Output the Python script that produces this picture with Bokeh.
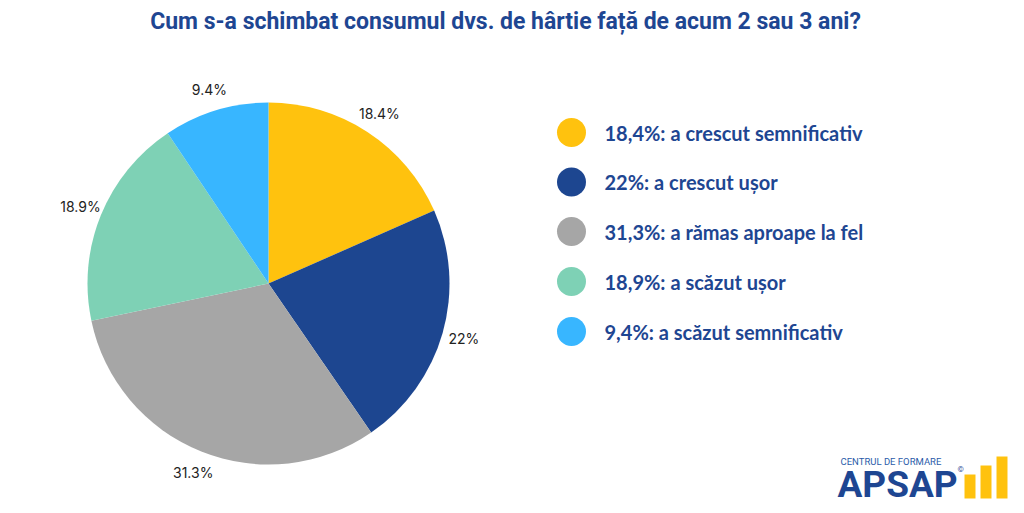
import numpy as np
from bokeh.plotting import figure
from bokeh.models import Range1d
from bokeh.core.properties import value
from bokeh.embed import file_html
from bokeh.resources import INLINE

# ---- data ----
categories = ["a crescut semnificativ", "a crescut ușor", "a rămas aproape la fel",
              "a scăzut ușor", "a scăzut semnificativ"]
shares = [18.4, 22.0, 31.3, 18.9, 9.4]
slice_labels = ["18.4%", "22%", "31.3%", "18.9%", "9.4%"]
legend_labels = ["18,4%: a crescut semnificativ", "22%: a crescut ușor",
                 "31,3%: a rămas aproape la fel", "18,9%: a scăzut ușor",
                 "9,4%: a scăzut semnificativ"]
colors = ["#FFC20E", "#1D4690", "#A6A6A6", "#7ED1B5", "#38B6FF"]
title = "Cum s-a schimbat consumul dvs. de hârtie față de acum 2 sau 3 ani?"

W, H = 1024, 513
def Y(py):
    return H - py

p = figure(width=W, height=H, output_backend="svg", toolbar_location=None,
           x_range=Range1d(0, W), y_range=Range1d(0, H), min_border=0)
p.axis.visible = False
p.grid.visible = False
p.outline_line_color = None
p.background_fill_color = "white"

# pie
cx, cy, r = 268, 283, 181
fr = np.array(shares) / sum(shares)
cum = np.concatenate([[0], np.cumsum(fr)])
start = np.pi / 2 - 2 * np.pi * cum[:-1]
end = np.pi / 2 - 2 * np.pi * cum[1:]
p.wedge(x=cx, y=Y(cy), radius=r, start_angle=end, end_angle=start,
        fill_color=colors, line_color=None)

# slice labels
mid = (cum[:-1] + cum[1:]) / 2 * 2 * np.pi
lr = 203
lx = cx + lr * np.sin(mid)
ly = Y(cy) + lr * np.cos(mid)
p.text(x=lx, y=ly, text=slice_labels, text_font=value("Inter"),
       text_font_size="14px", text_color="#222222",
       text_align="center", text_baseline="middle")

# title
p.text(x=[505], y=[Y(21)], text=[title], text_font=value("Roboto"),
       text_font_style="bold", text_font_size="23px", text_color="#1E4692",
       text_align="center", text_baseline="middle")

# legend
leg_y = Y(np.array([132, 181.5, 231, 281, 331]))
p.scatter(x=[571] * 5, y=leg_y, size=29, fill_color=colors, line_color=None)
p.text(x=[604] * 5, y=leg_y, text=legend_labels, text_font=value("Lato"),
       text_font_style="bold", text_font_size="20px", text_color="#1E4692",
       text_align="left", text_baseline="middle")

# logo
p.text(x=[840], y=[Y(461)], text=["CENTRUL DE FORMARE"], text_font=value("Roboto"),
       text_font_size="9.5px", text_color="#2B5BA9", text_baseline="middle")
p.text(x=[837], y=[Y(484)], text=["APSAP"], text_font=value("Roboto"),
       text_font_style="bold", text_font_size="37px", text_color="#1E4692",
       text_baseline="middle")
p.text(x=[957], y=[Y(469)], text=["©"], text_font=value("Roboto"),
       text_font_size="8px", text_color="#1E4692", text_baseline="middle")
p.quad(left=[964, 980, 996], right=[975, 991, 1007], bottom=[Y(498)] * 3,
       top=[Y(474), Y(465), Y(456)], fill_color="#FFC20E", line_color=None)

open("out.html", "w").write(file_html(p, INLINE))
